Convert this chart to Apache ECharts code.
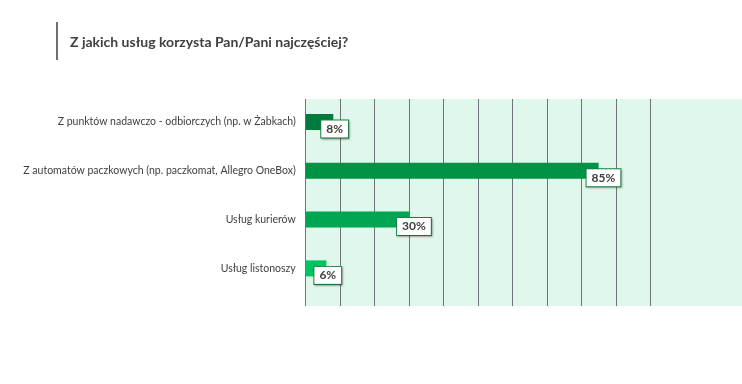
<!DOCTYPE html>
<html>
<head>
<meta charset="utf-8">
<script src="https://cdn.jsdelivr.net/npm/echarts@6/dist/echarts.min.js"></script>
<style>html,body{margin:0;padding:0;background:#fff;}#c{width:742px;height:384px;}</style>
</head>
<body>
<div id="c"></div>
<script>
const title = 'Z jakich usług korzysta Pan/Pani najczęściej?';
const categories = [
  'Z punktów nadawczo - odbiorczych (np. w Żabkach)',
  'Z automatów paczkowych (np. paczkomat, Allegro OneBox)',
  'Usług kurierów',
  'Usług listonoszy'
];
const values = [8, 85, 30, 6];
const barColors = ['#007a3d', '#009245', '#00a651', '#00c462'];
const xTicks = [0, 10, 20, 30, 40, 50, 60, 70, 80, 90, 100];

const FONT = 'Lato';
const chart = echarts.init(document.getElementById('c'), null, {renderer: 'canvas'});
const L = 305.7, R = 742 - 650.3;
chart.setOption({
  animation: false,
  textStyle: {fontFamily: FONT},
  graphic: [
    {type: 'rect', z: -10, shape: {x: L, y: 99, width: 742 - L, height: 207}, style: {fill: '#e0f7eb'}},
    {type: 'rect', shape: {x: 56, y: 22, width: 2, height: 38}, style: {fill: '#6f6f6f'}},
    {type: 'text', left: 70, top: 35, style: {text: title, fontFamily: FONT, fontSize: 14, fontWeight: 'bold', fill: '#404040'}}
  ],
  grid: [
    {left: L, right: R, top: 97.6, height: 195.2, containLabel: false, outerBoundsMode: 'none'},
    {left: L, right: R, top: 99, height: 207, containLabel: false, outerBoundsMode: 'none'}
  ],
  xAxis: [
    {gridIndex: 0, type: 'value', min: xTicks[0], max: xTicks[xTicks.length - 1], interval: 10,
     axisLine: {show: false}, axisTick: {show: false}, axisLabel: {show: false}, splitLine: {show: false}},
    {gridIndex: 1, type: 'value', min: xTicks[0], max: xTicks[xTicks.length - 1], interval: 10,
     axisLine: {show: false}, axisTick: {show: false}, axisLabel: {show: false},
     splitLine: {show: true, lineStyle: {color: '#6e747a', width: 1}}}
  ],
  yAxis: [
    {gridIndex: 0, type: 'category', inverse: true, data: categories,
     axisLine: {show: false}, axisTick: {show: false},
     axisLabel: {margin: 10, fontSize: 10.5, color: '#404040', fontFamily: FONT}},
    {gridIndex: 1, type: 'category', data: [''], show: false}
  ],
  series: [{
    type: 'bar', xAxisIndex: 0, yAxisIndex: 0, barWidth: 16,
    data: values.map((v, i) => ({value: v, itemStyle: {color: barColors[i]}})),
    label: {
      show: true, position: 'right', distance: 0, offset: [-12, 7],
      formatter: p => p.value + '%',
      fontFamily: FONT, fontSize: 12, fontWeight: 'bold', color: '#404040',
      backgroundColor: '#fff', borderColor: '#1a8548', borderWidth: 1,
      padding: [3, 5, 2, 5],
      shadowBlur: 2, shadowColor: 'rgba(0,0,0,0.25)', shadowOffsetX: 1, shadowOffsetY: 1
    }
  }]
});
</script>
</body>
</html>
